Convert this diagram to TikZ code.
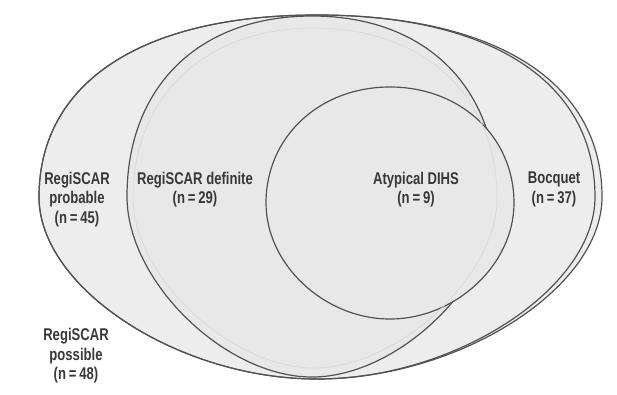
\documentclass[tikz,border=0pt]{standalone}
\usepackage{fontspec}
\setmainfont{Liberation Sans}[FakeStretch=0.77]
\newcommand\eggpath[8]{%
({#1+#3},#2) .. controls ({#1+#3},{#2-#7*#5}) and ({#1+#7*#3},{#2-#5}) .. (#1,{#2-#5})
.. controls ({#1-#7*#4},{#2-#5}) and ({#1-#4},{#2-#7*#5}) .. ({#1-#4},#2)
.. controls ({#1-#4},{#2+#8*#6}) and ({#1-#8*#4},{#2+#6}) .. (#1,{#2+#6})
.. controls ({#1+#8*#3},{#2+#6}) and ({#1+#3},{#2+#8*#6}) .. ({#1+#3},#2) -- cycle}
\begin{document}
\begin{tikzpicture}[x=1pt,y=-1pt,
  setline/.style={draw=black!68,line width=1.2pt},
  outerfill/.style={fill=black!7},
  innerfill/.style={fill=black!9},
  ghost/.style={draw=black!15,line width=0.7pt},
  lbl/.style={align=center,text=black!78,inner sep=0pt,
    font=\fontsize{17}{19.5}\selectfont\bfseries}]
\useasboundingbox (0,0) rectangle (617,394);
% outer sets
\path[outerfill] \eggpath{317}{197}{285}{278}{182}{182}{0.63}{0.5};
\path[outerfill] \eggpath{317}{197}{278}{278}{182}{182}{0.63}{0.5};
\path[setline] \eggpath{317}{197}{285}{278}{182}{182}{0.63}{0.5};
\path[setline] \eggpath{317}{197}{278}{278}{182}{182}{0.63}{0.5};
% RegiSCAR definite
\path[innerfill,setline] \eggpath{312}{196.5}{185}{185}{180.5}{180.5}{0.61}{0.47};
% Atypical DIHS
\path[innerfill,setline] \eggpath{390}{203}{124}{124}{116}{116}{0.57}{0.53};
% faint ghost outline
\path[ghost] \eggpath{314}{198}{183}{181}{170}{170}{0.6}{0.46};
% labels
\node[lbl] (prob) at (77,199.5) {RegiSCAR\\probable\\(n\,=\,45)};
\node[lbl] (def) at (195,189.5) {RegiSCAR definite\\(n\,=\,29)};
\node[lbl] (aty) at (416,189.5) {Atypical DIHS\\(n\,=\,9)};
\node[lbl] (boc) at (554,189.5) {Bocquet\\(n\,=\,37)};
\node[lbl] (poss) at (76,356) {RegiSCAR\\possible\\(n\,=\,48)};
\end{tikzpicture}
\end{document}
